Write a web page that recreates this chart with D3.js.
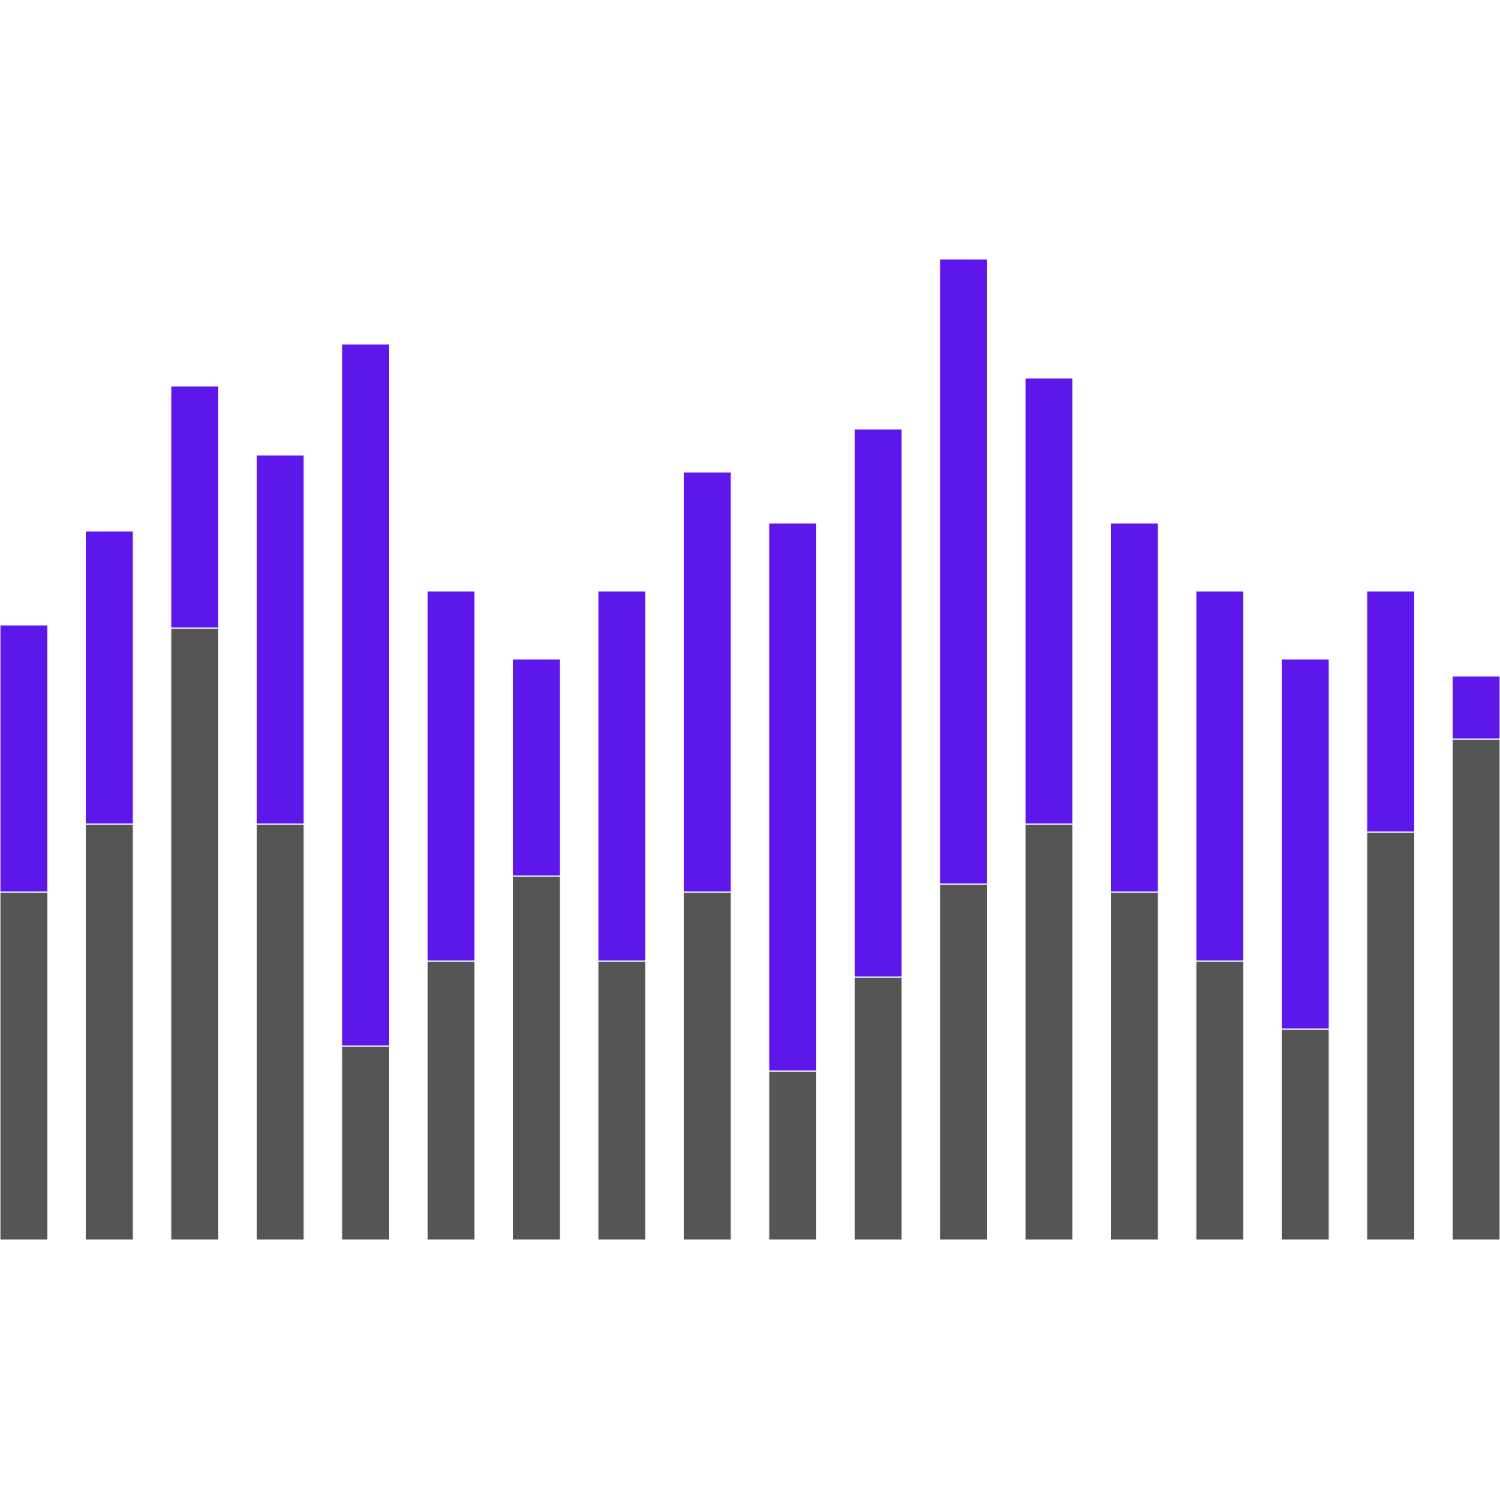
<!DOCTYPE html>
<html>
<head>
<meta charset="utf-8">
<script src="https://cdn.jsdelivr.net/npm/d3@7"></script>
<style>
  body { margin: 0; background: #fff; }
</style>
</head>
<body>
<div id="chart"></div>
<script>
const categories = d3.range(1, 19).map(i => "c" + i);
const lowerValues = [348, 416, 612, 416, 194, 279, 364, 279, 348, 169, 263, 356, 416, 348, 279, 211, 408, 501];
const upperValues = [267, 293, 242, 369, 702, 370, 217, 370, 420, 548, 548, 625, 446, 369, 370, 370, 241, 63];
const seriesKeys = ["lower", "upper"];
const seriesColors = ["#555555", "#5e17eb"];

const width = 1500, height = 1500;
const baseline = 1240;

const rows = categories.map((c, i) => ({cat: c, lower: lowerValues[i], upper: upperValues[i]}));
const stacked = d3.stack().keys(seriesKeys)(rows);

const x = d3.scaleBand()
  .domain(categories)
  .range([0, width])
  .paddingInner(0.44)
  .paddingOuter(0);

const y = d3.scaleLinear()
  .domain([0, baseline])
  .range([baseline, 0]);

const color = d3.scaleOrdinal().domain(seriesKeys).range(seriesColors);

const svg = d3.select("#chart")
  .append("svg")
  .attr("width", width)
  .attr("height", height);

svg.append("g")
  .selectAll("g")
  .data(stacked)
  .join("g")
  .attr("fill", d => color(d.key))
  .selectAll("rect")
  .data(d => d)
  .join("rect")
  .attr("x", d => x(d.data.cat))
  .attr("y", d => y(d[1]))
  .attr("width", x.bandwidth())
  .attr("height", d => y(d[0]) - y(d[1]))
  .attr("stroke", "#fff")
  .attr("stroke-width", 1);
</script>
</body>
</html>
